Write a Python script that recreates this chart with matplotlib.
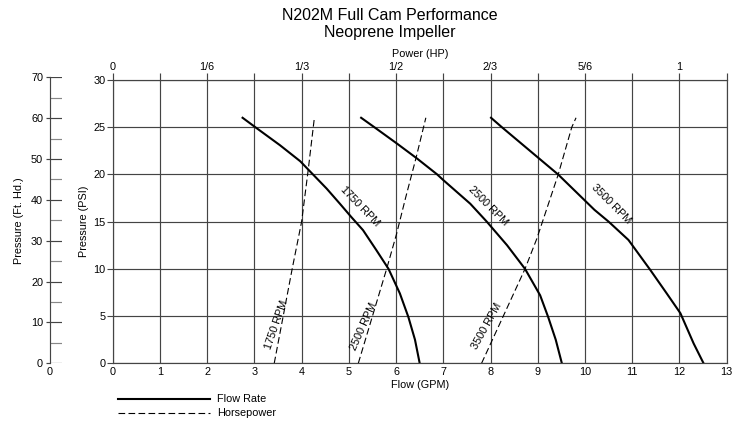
import matplotlib
matplotlib.use('Agg')
import matplotlib.pyplot as plt

plt.rcParams['font.family'] = ['Liberation Sans', 'DejaVu Sans']

# flow rate curves (GPM, PSI)
flow_1750 = [2.75, 3.02, 3.54, 3.97, 4.25, 4.53, 4.81, 5.05, 5.30, 5.58, 5.84, 6.08, 6.26, 6.40, 6.50]
psi_1750 = [26, 25, 23.1, 21.4, 19.95, 18.5, 16.9, 15.5, 14.1, 12.0, 10, 7.4, 4.9, 2.5, 0]
flow_2500 = [5.26, 5.54, 6.01, 6.44, 6.87, 7.00, 7.57, 7.92, 8.35, 8.73, 9.05, 9.22, 9.38, 9.51]
psi_2500 = [26, 25, 23.3, 21.7, 20, 19.4, 16.9, 15, 12.5, 10, 7.2, 4.9, 2.5, 0]
flow_3500 = [8.01, 8.24, 9.43, 10.20, 10.50, 10.92, 11.38, 11.73, 12.02, 12.30, 12.51]
psi_3500 = [26, 25, 20, 16.25, 15, 13.06, 9.9, 7.4, 5.3, 2.1, 0]

# horsepower curves (plotted on flow scale, HP = GPM / 12)
hp_1750_x = [3.42, 3.61, 3.80, 4.00, 4.14, 4.27]
hp_1750_y = [0, 5, 10, 15, 20.5, 26]
hp_2500_x = [5.20, 5.50, 5.80, 6.01, 6.20, 6.42, 6.63]
hp_2500_y = [0, 5, 10, 13.7, 17.5, 21.7, 26]
hp_3500_x = [7.81, 8.27, 8.73, 8.98, 9.43, 9.72, 9.81]
hp_3500_y = [0, 5, 10, 13.2, 19.95, 25, 26]

hp_ticks = [0, 2, 4, 6, 8, 10, 12]
hp_labels = ['0', '1/6', '1/3', '1/2', '2/3', '5/6', '1']

fig = plt.figure(figsize=(7.42, 4.23), dpi=100)
W, H = 742, 423
x0, x1 = 112.7, 726.7
y0, y1 = 363.3, 80.0
ax = fig.add_axes([x0 / W, 1 - y0 / H, (x1 - x0) / W, (y0 - y1) / H])

fs = 7.8
gc = '#444444'
ax.set_xlim(0, 13)
ax.set_ylim(0, 30)
ax.set_xticks(range(14))
ax.set_yticks(range(0, 31, 5))
ax.grid(True, color=gc, linewidth=0.85)
ax.tick_params(axis='x', length=0, labelsize=fs, pad=3)
ax.tick_params(axis='y', length=4, labelsize=fs, pad=1, color=gc)
for s in ax.spines.values():
    s.set_color(gc)
    s.set_linewidth(0.85)
ax.set_xlabel('Flow (GPM)', fontsize=fs, labelpad=2)
ax.set_ylabel('Pressure (PSI)', fontsize=fs, labelpad=3)

top = ax.secondary_xaxis('top')
top.set_xticks(range(14))
top.set_xticklabels(['' if i not in hp_ticks else hp_labels[hp_ticks.index(i)] for i in range(14)])
top.tick_params(length=5, labelsize=fs, pad=1, color=gc, width=0.85)
top.spines['top'].set_visible(False)
top.set_xlabel('Power (HP)', fontsize=fs, labelpad=3)

for fx, fy in [(flow_1750, psi_1750), (flow_2500, psi_2500), (flow_3500, psi_3500)]:
    ax.plot(fx, fy, color='black', linewidth=1.5, solid_joinstyle='round')
for hx, hy in [(hp_1750_x, hp_1750_y), (hp_2500_x, hp_2500_y), (hp_3500_x, hp_3500_y)]:
    ax.plot(hx, hy, color='black', linewidth=0.8, dashes=(6, 3))

ax.text(5.24, 16.6, '1750 RPM', rotation=-46, ha='center', va='center', fontsize=fs)
ax.text(7.95, 16.7, '2500 RPM', rotation=-45, ha='center', va='center', fontsize=fs)
ax.text(10.56, 16.9, '3500 RPM', rotation=-45, ha='center', va='center', fontsize=fs)
ax.text(3.47, 4.05, '1750 RPM', rotation=71, ha='center', va='center', fontsize=fs)
ax.text(5.31, 3.9, '2500 RPM', rotation=66, ha='center', va='center', fontsize=fs)
ax.text(7.92, 3.9, '3500 RPM', rotation=61, ha='center', va='center', fontsize=fs)

# feet of head axis
ft_top = 77.2
ax2 = fig.add_axes([50 / W, 1 - y0 / H, 12 / W, (y0 - ft_top) / H])
ax2.set_ylim(0, 70)
ax2.set_xlim(0, 1)
for k in ['top', 'right', 'bottom']:
    ax2.spines[k].set_visible(False)
ax2.spines['left'].set_color(gc)
ax2.spines['left'].set_linewidth(0.85)
ft_major = list(range(0, 71, 10))
ft_minor = list(range(5, 70, 10))
ax2.set_yticks(ft_major)
ax2.tick_params(axis='y', length=3, labelsize=fs, pad=2, color=gc, width=0.85)
ax2.hlines(ft_major, 0, 1, color=gc, linewidth=0.85)
ax2.hlines(ft_minor, 0, 1, color='#888888', linewidth=0.85)
ax2.set_xticks([0])
ax2.tick_params(axis='x', length=0, labelsize=fs, pad=3)
ax2.set_ylabel('Pressure (Ft. Hd.)', fontsize=fs, labelpad=5)

fig.text(390 / W, 1 - 15 / H, 'N202M Full Cam Performance', ha='center', va='center', fontsize=11.5)
fig.text(390 / W, 1 - 32 / H, 'Neoprene Impeller', ha='center', va='center', fontsize=11.5)

# legend
fig.add_artist(plt.Line2D([118 / W, 210 / W], [1 - 399 / H] * 2, color='black', linewidth=1.5))
fig.add_artist(plt.Line2D([118 / W, 210 / W], [1 - 413 / H] * 2, color='black', linewidth=0.8, dashes=(6, 3)))
fig.text(217 / W, 1 - 399 / H, 'Flow Rate', va='center', fontsize=fs)
fig.text(217 / W, 1 - 413 / H, 'Horsepower', va='center', fontsize=fs)

fig.savefig('out.png', dpi=100)
